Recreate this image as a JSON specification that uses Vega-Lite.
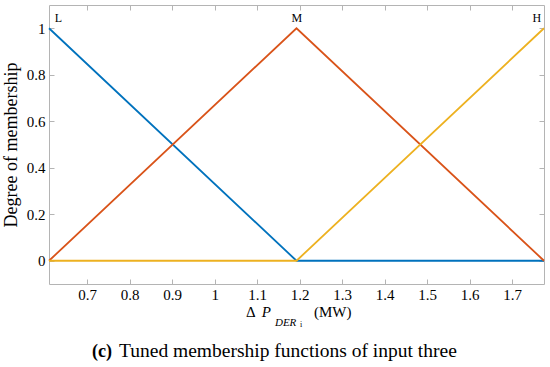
{
  "$schema": "https://vega.github.io/schema/vega-lite/v6.json",
  "width": 495,
  "height": 279,
  "autosize": "none",
  "padding": {"left": 49, "top": 5, "right": 6, "bottom": 83},
  "background": "white",
  "config": {
    "view": {"stroke": "#b4b4b4", "strokeWidth": 1},
    "font": "Liberation Serif",
    "axis": {
      "domain": false,
      "grid": false,
      "tickSize": -5,
      "tickColor": "#b4b4b4",
      "tickWidth": 1,
      "labelFont": "Liberation Serif",
      "labelFontSize": 15,
      "labelColor": "#000000",
      "titleFont": "Liberation Serif",
      "titleColor": "#000000",
      "titleFontWeight": "normal"
    }
  },
  "layer": [
    {
      "data": {
        "values": [
          {"set": "L", "x": 0.61, "y": 1},
          {"set": "L", "x": 1.1925, "y": 0},
          {"set": "L", "x": 1.775, "y": 0},
          {"set": "M", "x": 0.61, "y": 0},
          {"set": "M", "x": 1.1925, "y": 1},
          {"set": "M", "x": 1.775, "y": 0},
          {"set": "H", "x": 0.61, "y": 0},
          {"set": "H", "x": 1.1925, "y": 0},
          {"set": "H", "x": 1.775, "y": 1}
        ]
      },
      "mark": {"type": "line", "strokeWidth": 1.8},
      "encoding": {
        "x": {
          "field": "x", "type": "quantitative",
          "scale": {"domain": [0.61, 1.775], "nice": false, "zero": false},
          "axis": {"orient": "bottom", "values": [0.7, 0.8, 0.9, 1, 1.1, 1.2, 1.3, 1.4, 1.5, 1.6, 1.7], "labelExpr": "'' + datum.value", "title": null, "labelPadding": 8}
        },
        "y": {
          "field": "y", "type": "quantitative",
          "scale": {"domain": [-0.1, 1.1], "nice": false, "zero": false},
          "axis": {"orient": "left", "values": [0, 0.2, 0.4, 0.6, 0.8, 1], "labelExpr": "'' + datum.value", "title": "Degree of membership", "titleFontSize": 18, "labelPadding": 9, "titlePadding": 6}
        },
        "color": {
          "field": "set", "type": "nominal",
          "scale": {"domain": ["L", "M", "H"], "range": ["#0072BD", "#D95319", "#EDB120"]},
          "legend": null
        },
        "order": {"field": "x", "type": "quantitative"}
      }
    },
    {
      "data": {
        "values": [
          {"label": "L", "x": 0.632, "y": 1.042},
          {"label": "M", "x": 1.193, "y": 1.042},
          {"label": "H", "x": 1.758, "y": 1.042}
        ]
      },
      "mark": {"type": "text", "fontSize": 12, "font": "Liberation Serif", "baseline": "middle", "align": "center", "color": "#000000"},
      "encoding": {
        "x": {"field": "x", "type": "quantitative", "axis": {"orient": "top", "labels": false, "title": null, "values": [0.7, 0.8, 0.9, 1, 1.1, 1.2, 1.3, 1.4, 1.5, 1.6, 1.7]}},
        "y": {"field": "y", "type": "quantitative", "axis": {"orient": "right", "labels": false, "title": null, "values": [0, 0.2, 0.4, 0.6, 0.8, 1]}},
        "text": {"field": "label"}
      }
    },
    {
      "data": {"values": [{}]},
      "mark": {"type": "text", "text": "Δ", "fontSize": 15, "font": "Liberation Serif", "align": "left", "baseline": "middle", "color": "#000000"},
      "encoding": {
        "x": {"datum": 1.0735, "type": "quantitative", "axis": null},
        "y": {"datum": -0.222, "type": "quantitative", "axis": null}
      }
    },
    {
      "data": {"values": [{}]},
      "mark": {"type": "text", "text": "P", "fontSize": 15, "fontStyle": "italic", "font": "Liberation Serif", "align": "left", "baseline": "middle", "color": "#000000"},
      "encoding": {
        "x": {"datum": 1.111, "type": "quantitative", "axis": null},
        "y": {"datum": -0.222, "type": "quantitative", "axis": null}
      }
    },
    {
      "data": {"values": [{}]},
      "mark": {"type": "text", "text": "DER", "fontSize": 11, "fontStyle": "italic", "font": "Liberation Serif", "align": "left", "baseline": "middle", "color": "#000000"},
      "encoding": {
        "x": {"datum": 1.1418, "type": "quantitative", "axis": null},
        "y": {"datum": -0.268, "type": "quantitative", "axis": null}
      }
    },
    {
      "data": {"values": [{}]},
      "mark": {"type": "text", "text": "i", "fontSize": 8, "font": "Liberation Serif", "align": "left", "baseline": "middle", "color": "#000000"},
      "encoding": {
        "x": {"datum": 1.2006, "type": "quantitative", "axis": null},
        "y": {"datum": -0.278, "type": "quantitative", "axis": null}
      }
    },
    {
      "data": {"values": [{}]},
      "mark": {"type": "text", "text": "(MW)", "fontSize": 15, "font": "Liberation Serif", "align": "left", "baseline": "middle", "color": "#000000"},
      "encoding": {
        "x": {"datum": 1.2335, "type": "quantitative", "axis": null},
        "y": {"datum": -0.222, "type": "quantitative", "axis": null}
      }
    },
    {
      "data": {"values": [{}]},
      "mark": {"type": "text", "text": "(c)", "fontSize": 18, "fontWeight": "bold", "font": "Liberation Serif", "align": "left", "baseline": "alphabetic", "color": "#000000"},
      "encoding": {
        "x": {"datum": 0.711, "type": "quantitative", "axis": null},
        "y": {"datum": -0.4142, "type": "quantitative", "axis": null}
      }
    },
    {
      "data": {"values": [{}]},
      "mark": {"type": "text", "text": "Tuned membership functions of input three", "fontSize": 19.5, "font": "Liberation Serif", "align": "left", "baseline": "alphabetic", "color": "#000000"},
      "encoding": {
        "x": {"datum": 0.7748, "type": "quantitative", "axis": null},
        "y": {"datum": -0.4142, "type": "quantitative", "axis": null}
      }
    }
  ],
  "resolve": {"axis": {"x": "independent", "y": "independent"}}
}
